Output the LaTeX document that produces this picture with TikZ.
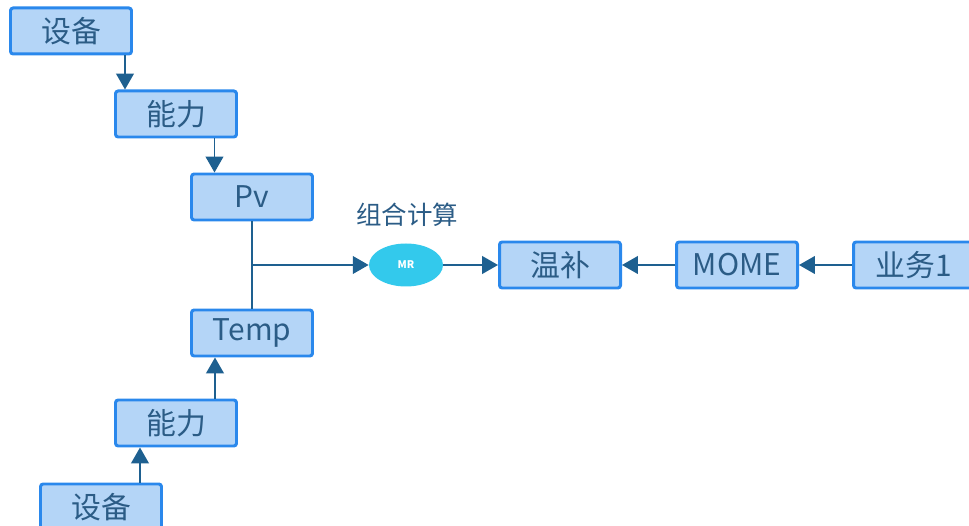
\documentclass[tikz,border=0pt]{standalone}
\usepackage{fontspec}
\setmainfont{Noto Sans CJK SC}
\usepackage{tikz}
\usetikzlibrary{arrows.meta,shapes.geometric,positioning,calc}
\definecolor{boxfill}{HTML}{B4D5F7}
\definecolor{boxline}{HTML}{2A88EC}
\definecolor{txtblue}{HTML}{2B5C86}
\definecolor{arrblue}{HTML}{1E6090}
\definecolor{mrcyan}{HTML}{33C9EC}
\begin{document}
\begin{tikzpicture}[
    block/.style={draw=boxline, line width=1.7pt, rounded corners=1.5pt, fill=boxfill, minimum width=2.42cm, minimum height=0.92cm, align=center, font=\fontsize{17}{17}\selectfont, text=txtblue, inner sep=0pt},
    calc/.style={ellipse, fill=mrcyan, minimum width=1.48cm, minimum height=0.86cm, inner sep=0pt, font=\fontsize{6}{6}\selectfont\bfseries, text=white},
    arr/.style={-{Triangle[length=9pt, width=10pt]}, line width=1.1pt, draw=arrblue},
    ln/.style={line width=1.1pt, draw=arrblue}
]
\useasboundingbox (0,0) rectangle (19.38,-10.52);
\node[block] (dev1) at (1.42,-0.62) {设备};
\node[block] (cap1) at (3.52,-2.28) {能力};
\node[block] (pv) at (5.04,-3.94) {Pv};
\node[block] (temp) at (5.04,-6.66) {Temp};
\node[block] (cap2) at (3.52,-8.46) {能力};
\node[block] (dev2) at (2.02,-10.14) {设备};
\node[calc] (mr) at (8.12,-5.30) {MR};
\node[font=\fontsize{14.5}{14.5}\selectfont, text=txtblue] (mrlabel) at (8.14,-4.30) {组合计算};
\node[block] (wenbu) at (11.20,-5.30) {温补};
\node[block] (mome) at (14.74,-5.30) {MOME};
\node[block] (biz) at (18.28,-5.30) {业务1};

% vertical connectors leave the boxes off centre
\coordinate (d1) at ([xshift=-0.16cm]dev1.south east);
\coordinate (c1) at ([xshift=-0.47cm]cap1.south east);
\coordinate (c2) at ([xshift=-0.46cm]cap2.north east);
\coordinate (d2) at ([xshift=-0.46cm]dev2.north east);
\draw[arr] (d1) -- (d1 |- cap1.north);
\draw[arr] (c1) -- (c1 |- pv.north);
\draw[arr] (c2) -- (c2 |- temp.south);
\draw[arr] (d2) -- (d2 |- cap2.south);
\draw[ln] (pv.south) -- (temp.north);
\draw[arr] (pv.south |- mr.west) -- (mr.west);
\draw[arr] (mr.east) -- (wenbu.west);
\draw[arr] (mome.west) -- (wenbu.east);
\draw[arr] (biz.west) -- (mome.east);
\end{tikzpicture}
\end{document}
